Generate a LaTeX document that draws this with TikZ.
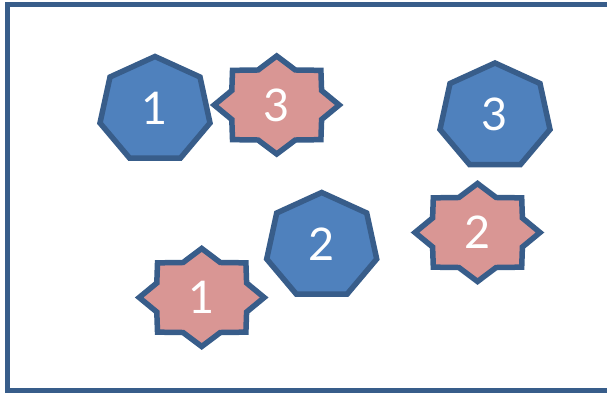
\documentclass[tikz,border=0pt]{standalone}
\usepackage{fontspec}
\setmainfont{Lato}
\definecolor{hfill}{HTML}{4F81BD}
\definecolor{edge}{HTML}{385D8A}
\definecolor{sfill}{HTML}{D99694}
\tikzset{
  heptsty/.style={draw=edge,fill=hfill,line width=5.5pt,line join=miter},
  starsty/.style={draw=edge,fill=sfill,line width=5.5pt,line join=miter},
  framesty/.style={draw=edge,line width=5pt},
  lbl/.style={text=white,font=\fontsize{45}{45}\selectfont,inner sep=0pt},
  hept/.pic={
    \draw[heptsty] (0,-53.5) -- (45,-33) -- (55,13) -- (25.5,48)
      -- (-25.5,48) -- (-55,13) -- (-45,-33) -- cycle;
    \node[lbl] (-label) at (0,-2) {#1};
  },
  star/.pic={
    \draw[starsty] (62.5,0)
      \foreach \k in {1,...,15} {
        -- ({ifthenelse(isodd(\k),48.6,62.5)*cos(\k*22.5)},{ifthenelse(isodd(\k),37.9,49)*sin(\k*22.5)})
      } -- cycle;
    \node[lbl] (-label) at (0,0) {#1};
  }
}
\begin{document}
\begin{tikzpicture}[x=1pt,y=-1pt]
\useasboundingbox (0,0) rectangle (607,393);
\clip (0,0) rectangle (607,393);
\draw[framesty] (7.8,5) rectangle (614,390.5);
\pic (h1) at (155,110) {hept=1};
\pic (h2) at (321.7,246) {hept=2};
\pic (h3) at (495,116.5) {hept=3};
\pic (s3) at (276.7,105) {star=3};
\pic (s1) at (201.7,297.5) {star=1};
\pic (s2) at (477.5,232.5) {star=2};
\end{tikzpicture}
\end{document}
